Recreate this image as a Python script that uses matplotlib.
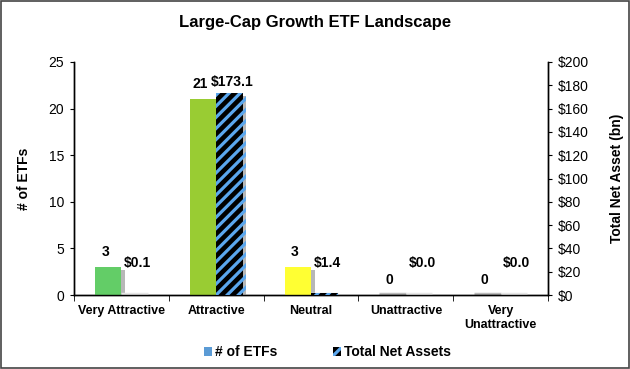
import matplotlib
matplotlib.use("Agg")
import matplotlib.pyplot as plt
import matplotlib.patheffects as pe
from matplotlib.patches import Patch, Rectangle
import numpy as np

categories = ["Very Attractive", "Attractive", "Neutral", "Unattractive", "Very\nUnattractive"]
etf_counts = [3, 21, 3, 0, 0]
net_assets = [0.1, 173.1, 1.4, 0.0, 0.0]
etf_colors = ["#63cd67", "#99cc33", "#ffff33", "#cc3333", "#990000"]

plt.rcParams["font.family"] = ["Liberation Sans", "DejaVu Sans"]
plt.rcParams["hatch.linewidth"] = 2.3
plt.rcParams["hatch.color"] = "#5ba7ee"

fig = plt.figure(figsize=(6.3, 3.69), dpi=100)
ax = fig.add_axes([0.1175, 0.2005, 0.7525, 0.6315])
ax2 = ax.twinx()

x = np.arange(len(categories))
w = 0.28
shadow = [pe.SimplePatchShadow(offset=(2.5, -2), shadow_rgbFace="#888888", alpha=0.6), pe.Normal()]

bars1 = ax.bar(x - w / 2, etf_counts, w, color=etf_colors, linewidth=0, zorder=3)
bars2 = ax2.bar(x + w / 2, net_assets, w, color="black", edgecolor="#5ba7ee",
                hatch="///", linewidth=0, zorder=3)
for b in list(bars1) + list(bars2):
    b.set_path_effects(shadow)

# faint grey footprints for empty / near-empty bars, as in the original
for xi, v in zip(x, etf_counts):
    if v == 0:
        ax.plot([xi - w, xi], [0.08, 0.08], color="#bbbbbb", lw=2.5, zorder=2, solid_capstyle="butt")
for xi, v in zip(x, net_assets):
    if v < 2:
        ax2.plot([xi, xi + w], [0.6, 0.6], color="#e6e6e6", lw=2.5, zorder=2, solid_capstyle="butt")

for xi, v in zip(x, etf_counts):
    ax.annotate(f"{v}", (xi - w / 2 - 0.03, v), xytext=(0, 6), textcoords="offset points",
                ha="center", va="bottom", fontsize=10, fontweight="bold")
for xi, v in zip(x, net_assets):
    ax2.annotate(f"${v:.1f}", (xi + w / 2 + 0.03, max(v, 18)), xytext=(0, 3), textcoords="offset points",
                 ha="center", va="bottom", fontsize=10, fontweight="bold")

ax.set_xlim(-0.5, len(categories) - 0.5)
ax.set_ylim(0, 25)
ax.set_yticks(range(0, 26, 5))
ax2.set_ylim(0, 200)
ax2.set_yticks(range(0, 201, 20))
ax2.set_yticklabels([f"${t}" for t in range(0, 201, 20)])

ax.set_xticks(x)
ax.set_xticklabels(categories, fontsize=9, fontweight="bold")
ax.set_xticks(np.arange(-0.5, len(categories), 1), minor=True)
ax.tick_params(axis="x", which="major", length=0, pad=7)
ax.tick_params(axis="x", which="minor", length=4, direction="out")
ax.tick_params(axis="y", labelsize=10, length=3, pad=4)
ax2.tick_params(axis="y", labelsize=10, length=3, pad=4)

for a in (ax, ax2):
    a.spines["top"].set_visible(False)
    for s in a.spines.values():
        s.set_linewidth(1.0)

ax.set_ylabel("# of ETFs", fontsize=10, fontweight="bold", labelpad=13)
ax2.set_ylabel("Total Net Asset (bn)", fontsize=10, fontweight="bold", labelpad=15)

fig.text(0.5, 0.94, "Large-Cap Growth ETF Landscape", ha="center", va="center",
         fontsize=12, fontweight="bold")

handles = [Patch(facecolor="#5b9bd5", edgecolor="none"),
           Patch(facecolor="black", edgecolor="#5ba7ee", hatch="///", linewidth=0)]
fig.legend(handles, ["# of ETFs", "Total Net Assets"], loc="center", bbox_to_anchor=(0.52, 0.045),
           ncol=2, frameon=False, handlelength=0.6, handleheight=0.6, handletextpad=0.2,
           columnspacing=4, prop={"weight": "bold", "size": 10})

fig.patches.append(Rectangle((0.001, 0.002), 0.997, 0.995, transform=fig.transFigure,
                             fill=False, edgecolor="#444444", linewidth=1.2))

fig.savefig("out.png", dpi=100)
